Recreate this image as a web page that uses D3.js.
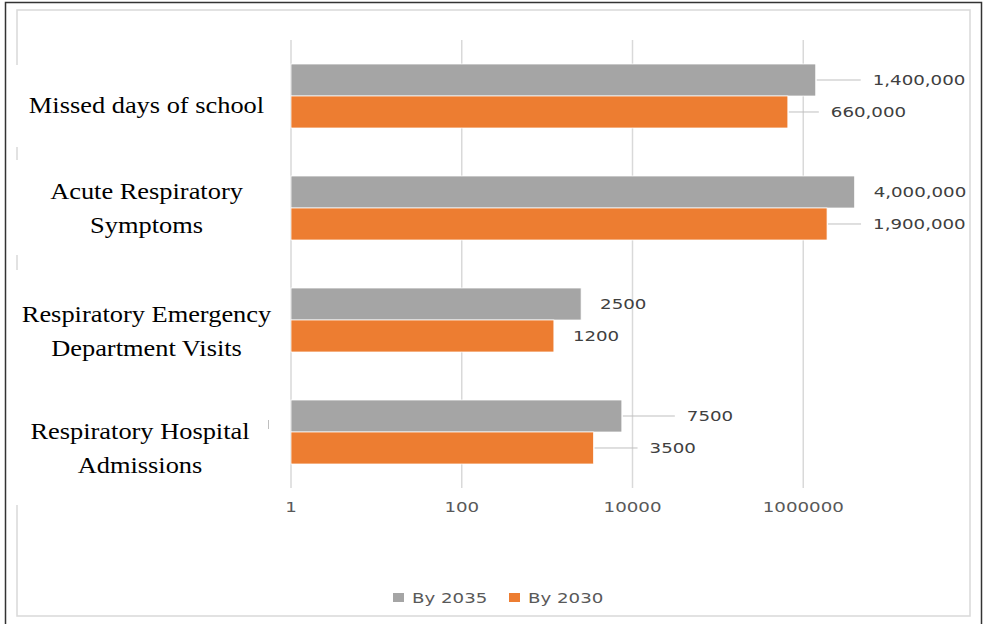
<!DOCTYPE html>
<html>
<head>
<meta charset="utf-8">
<script src="https://cdnjs.cloudflare.com/ajax/libs/d3/7.8.5/d3.min.js"></script>
<style>
    html, body { margin: 0; padding: 0; background: #fff; }
    svg { display: block; }
</style>
</head>
<body>
<svg id="chart" width="985" height="624"></svg>
<script>
// Daten
const categories = [
    'Missed days of school',
    'Acute Respiratory Symptoms',
    'Respiratory Emergency Department Visits',
    'Respiratory Hospital Admissions'
];
const categoryLines = [
    ['Missed days of school'],
    ['Acute Respiratory', 'Symptoms'],
    ['Respiratory Emergency', 'Department Visits'],
    ['Respiratory Hospital', 'Admissions']
];
const seriesNames = ['By 2035', 'By 2030'];
const by2035 = [1400000, 4000000, 2500, 7500];
const by2030 = [660000, 1900000, 1200, 3500];
const labels2035 = ['1,400,000', '4,000,000', '2500', '7500'];
const labels2030 = ['660,000', '1,900,000', '1200', '3500'];
const tickValues = [1, 100, 10000, 1000000];
const tickLabels = ['1', '100', '10000', '1000000'];

// Layout (manuell verschobene Labels wie im Original)
const layout = {
    plot: { left: 291, right: 974, top: 40, bottom: 488 },
    labelShift: { 'By 2035': [57, 19, 19, 65], 'By 2030': [43, 46, 19, 56] },
    catLabelX: [146.5, 146.5, 146.5, 140],
    catLabelDy: [17, -9, 2, 7],
    lineHeight: 33.5
};
const colors = { 'By 2035': '#A5A5A5', 'By 2030': '#ED7D31' };
const sansFont = '"DejaVu Sans", Verdana, sans-serif';
const serifFont = '"Liberation Serif", "Times New Roman", serif';
const stretch = 1.35;

const svg = d3.select('#chart');

// Rahmen
svg.append('rect')
    .attr('x', 5.5).attr('y', 2.5)
    .attr('width', 976).attr('height', 660)
    .attr('fill', 'none')
    .attr('stroke', '#333')
    .attr('stroke-width', 1.5);

svg.append('rect')
    .attr('x', 17).attr('y', 10)
    .attr('width', 953).attr('height', 606)
    .attr('fill', '#fff')
    .attr('stroke', '#d9d9d9')
    .attr('stroke-width', 1.5);

// Weisse Textfelder ueber dem linken Rahmen
[[65, 147], [160, 255], [270, 505]].forEach(([y0, y1]) => {
    svg.append('rect')
        .attr('x', 10).attr('y', y0)
        .attr('width', 278).attr('height', y1 - y0)
        .attr('fill', '#fff');
});
svg.append('line')
    .attr('x1', 268.5).attr('x2', 268.5)
    .attr('y1', 420).attr('y2', 429)
    .attr('stroke', '#bfbfbf');

// Skalen
const xScale = d3.scaleLog()
    .domain([1, 1e8])
    .range([layout.plot.left, layout.plot.right]);

const yScale = d3.scaleBand()
    .domain(categories)
    .range([layout.plot.top, layout.plot.bottom])
    .paddingInner(0.4286)
    .paddingOuter(0.2143);

const ySub = d3.scaleBand()
    .domain(seriesNames)
    .range([0, yScale.bandwidth()]);

// Gitterlinien
svg.append('g')
    .selectAll('line')
    .data(tickValues)
    .enter()
    .append('line')
    .attr('x1', d => xScale(d))
    .attr('x2', d => xScale(d))
    .attr('y1', layout.plot.top)
    .attr('y2', layout.plot.bottom)
    .attr('stroke', '#d9d9d9')
    .attr('stroke-width', 1.5);

// Achsenbeschriftung
svg.append('g')
    .selectAll('text')
    .data(tickValues)
    .enter()
    .append('text')
    .attr('transform', d => `translate(${xScale(d)},${layout.plot.bottom + 19}) scale(${stretch},1)`)
    .attr('text-anchor', 'middle')
    .attr('dominant-baseline', 'central')
    .style('font-family', sansFont)
    .style('font-size', '13.5px')
    .style('fill', '#595959')
    .text((d, i) => tickLabels[i]);

// Balken
const rows = [];
categories.forEach((c, i) => {
    rows.push({ cat: c, i, series: 'By 2035', value: by2035[i], label: labels2035[i] });
    rows.push({ cat: c, i, series: 'By 2030', value: by2030[i], label: labels2030[i] });
});

svg.append('g')
    .selectAll('rect')
    .data(rows)
    .enter()
    .append('rect')
    .attr('x', xScale(1))
    .attr('y', d => yScale(d.cat) + ySub(d.series))
    .attr('width', d => xScale(d.value) - xScale(1))
    .attr('height', ySub.bandwidth())
    .attr('fill', d => colors[d.series])
    .attr('stroke', '#fff')
    .attr('stroke-width', 0.75);

// Werte an Balken (mit Fuehrungslinien)
const labelG = svg.append('g');
rows.forEach(d => {
    const barEnd = xScale(d.value);
    const lx = barEnd + layout.labelShift[d.series][d.i];
    const cy = yScale(d.cat) + ySub(d.series) + ySub.bandwidth() / 2;
    if (lx - barEnd > 30) {
        labelG.append('line')
            .attr('x1', barEnd + 1).attr('x2', lx - 12)
            .attr('y1', cy).attr('y2', cy)
            .attr('stroke', '#bfbfbf')
            .attr('stroke-width', 1);
    }
    labelG.append('text')
        .attr('transform', `translate(${lx},${cy}) scale(${stretch},1)`)
        .attr('dominant-baseline', 'central')
        .style('font-family', sansFont)
        .style('font-size', '13.5px')
        .style('fill', '#404040')
        .text(d.label);
});

// Kategorien (Textfelder)
categories.forEach((c, i) => {
    const cy = yScale(c) + yScale.bandwidth() / 2 + layout.catLabelDy[i];
    categoryLines[i].forEach((line, j) => {
        svg.append('text')
            .attr('transform', `translate(${layout.catLabelX[i]},${cy + j * layout.lineHeight}) scale(1.1,1)`)
            .attr('text-anchor', 'middle')
            .style('font-family', serifFont)
            .style('font-size', '24px')
            .style('fill', '#000')
            .text(line);
    });
});

// Legende
const legend = svg.append('g')
    .attr('transform', 'translate(393,598)');
const legendX = [0, 116];
seriesNames.forEach((s, i) => {
    legend.append('rect')
        .attr('x', legendX[i]).attr('y', -5)
        .attr('width', 11).attr('height', 9)
        .attr('fill', colors[s]);
    legend.append('text')
        .attr('transform', `translate(${legendX[i] + 19},0) scale(${stretch},1)`)
        .attr('dominant-baseline', 'central')
        .style('font-family', sansFont)
        .style('font-size', '13.5px')
        .style('fill', '#595959')
        .text(s);
});
</script>
</body>
</html>
